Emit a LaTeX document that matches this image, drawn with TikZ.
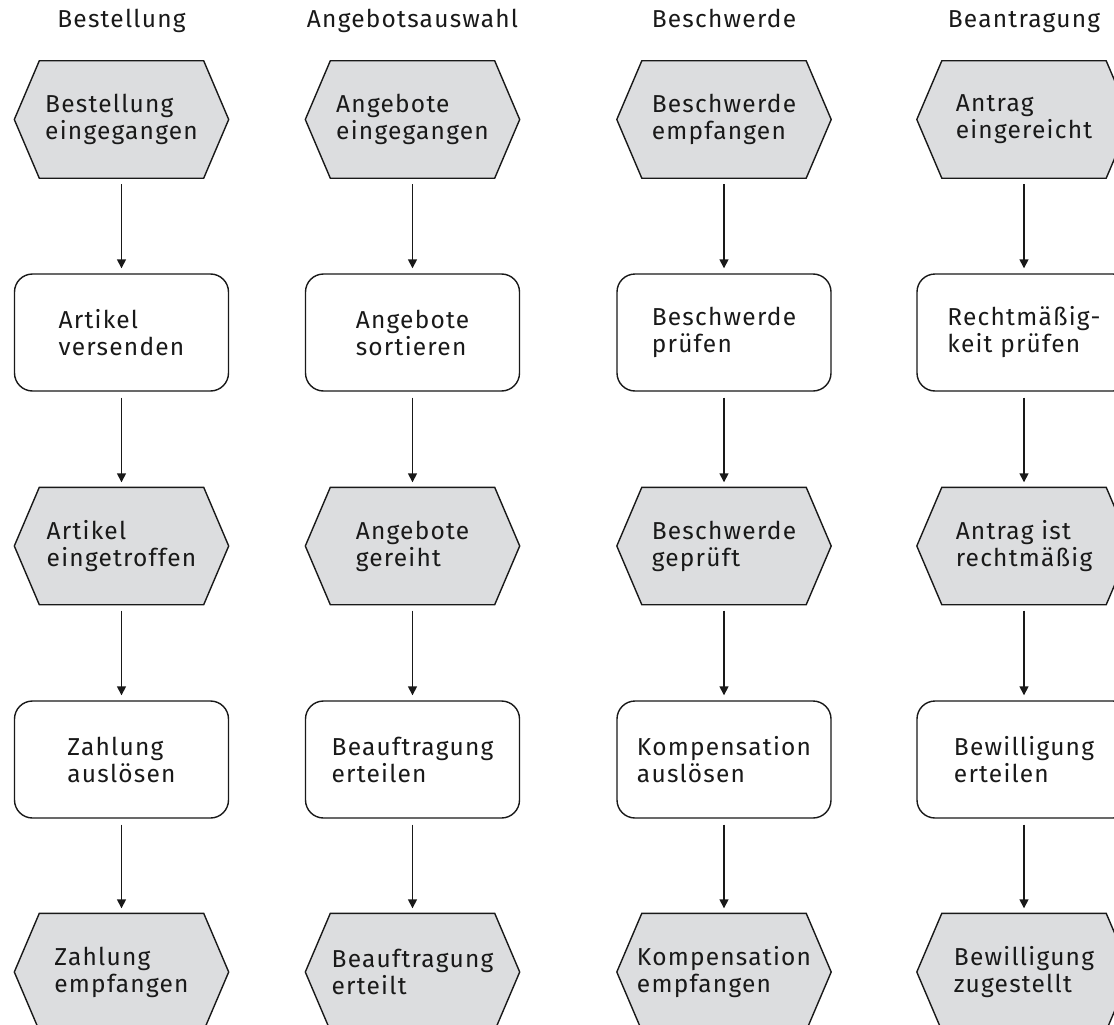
\documentclass[tikz,border=0pt]{standalone}
\usepackage{fontspec}
\setmainfont[LetterSpace=5]{Fira Sans}
\usetikzlibrary{arrows.meta,backgrounds}
\definecolor{evfill}{RGB}{220,221,223}
\definecolor{ink}{RGB}{25,25,25}
\begin{document}
\begin{tikzpicture}[x=1pt,y=-1pt,
  base/.style={minimum width=214pt, minimum height=117pt, inner sep=0pt,
    align=left, font=\fontsize{24.5}{27}\selectfont, text=ink},
  event/.style={base},
  task/.style={base, draw=ink, line width=1.4pt, rounded corners=18pt},
  title/.style={anchor=base, font=\fontsize{24.5}{27}\selectfont, text=ink},
  hex/.style={draw=ink, fill=evfill, line width=1.4pt, line join=miter},
  flow/.style={draw=ink, line width=1.5pt, -{Triangle[length=9pt,width=9pt]},
    shorten <=6pt, shorten >=5pt}]
\useasboundingbox (0,0) rectangle (1114,1025);
\clip (0,0) rectangle (1114,1025);

% column headings
\node[title] (t1) at (121.5,28) {Bestellung};
\node[title] (t2) at (412.5,28) {Angebotsauswahl};
\node[title] (t3) at (724,28) {Beschwerde};
\node[title] (t4) at (1024,28) {Beantragung};

% Bestellung
\node[event] (a1) at (121.5,119.5) {Bestellung\\eingegangen};
\node[task]  (a2) at (121.5,332.5) {Artikel\\versenden};
\node[event] (a3) at (121.5,546)   {Artikel\\eingetroffen};
\node[task]  (a4) at (121.5,759.5) {Zahlung\\auslösen};
\node[event] (a5) at (121.5,972)   {Zahlung\\empfangen};

% Angebotsauswahl
\node[event] (b1) at (412.5,119.5) {Angebote\\eingegangen};
\node[task]  (b2) at (412.5,332.5) {Angebote\\sortieren};
\node[event] (b3) at (412.5,546)   {Angebote\\gereiht};
\node[task]  (b4) at (412.5,759.5) {Beauftragung\\erteilen};
\node[event] (b5) at (412.5,972)   {Beauftragung\\erteilt};

% Beschwerde
\node[event] (c1) at (724,119.5) {Beschwerde\\empfangen};
\node[task]  (c2) at (724,332.5) {Beschwerde\\prüfen};
\node[event] (c3) at (724,546)   {Beschwerde\\geprüft};
\node[task]  (c4) at (724,759.5) {Kompensation\\auslösen};
\node[event] (c5) at (724,972)   {Kompensation\\empfangen};

% Beantragung
\node[event] (d1) at (1024,119.5) {Antrag\\eingereicht};
\node[task]  (d2) at (1024,332.5) {Rechtmäßig-\\keit prüfen};
\node[event] (d3) at (1024,546)   {Antrag ist\\rechtmäßig};
\node[task]  (d4) at (1024,759.5) {Bewilligung\\erteilen};
\node[event] (d5) at (1024,972)   {Bewilligung\\zugestellt};

% hexagonal event outlines behind the event labels
\begin{scope}[on background layer]
\foreach \n in {a1,a3,a5,b1,b3,b5,c1,c3,c5,d1,d3,d5}
  \draw[hex] (\n.west) -- ([xshift=25pt]\n.north west)
    -- ([xshift=-25pt]\n.north east) -- (\n.east)
    -- ([xshift=-25pt]\n.south east) -- ([xshift=25pt]\n.south west) -- cycle;
\end{scope}

% control flow
\foreach \c in {a,b,c,d} {
  \draw[flow] (\c1) -- (\c2);
  \draw[flow] (\c2) -- (\c3);
  \draw[flow] (\c3) -- (\c4);
  \draw[flow] (\c4) -- (\c5);
}
\end{tikzpicture}
\end{document}
